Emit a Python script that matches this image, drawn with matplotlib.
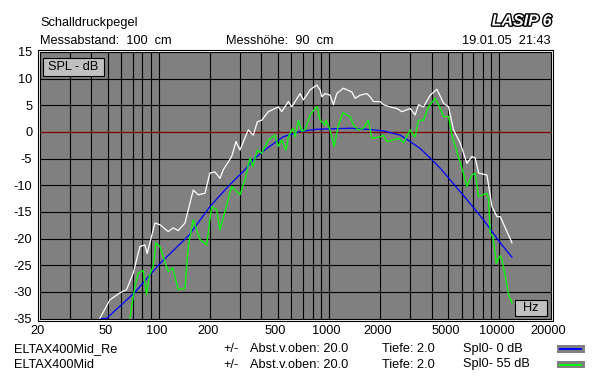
import matplotlib
matplotlib.use('Agg')
import matplotlib.pyplot as plt
from matplotlib.patches import Rectangle
from matplotlib.lines import Line2D
import matplotlib.patheffects as pe
import matplotlib.transforms as mtransforms
from matplotlib.ticker import NullLocator

plt.rcParams['font.family'] = ['Liberation Sans', 'DejaVu Sans']
plt.rcParams['axes.unicode_minus'] = False

# ---- data (frequency in Hz, level in dB) ----
white_f = [44.9, 51.5, 58.9, 64.5, 70.6, 77.3, 82.7, 85.3, 94.7, 101.3, 113.4, 121.3, 129.8,
           142.2, 159.1, 170.2, 186.4, 199.4, 213.4, 228.4, 238.8, 267.6, 283.6, 299.4, 335,
           358.6, 378.6, 401.9, 439.4, 503, 526.8, 576, 603, 675, 705.8, 773, 846, 885, 905.7,
           947, 1013, 1060, 1109, 1213, 1360, 1422, 1521, 1666, 1742, 1822, 1995, 2086, 2284,
           2502, 2677, 2994, 3205, 3351, 3586, 3926, 4300, 4702, 5031, 5383, 5894, 6457, 6908,
           7222, 7554, 8465, 9058, 9692, 10134, 11872]
white_db = [-35.0, -31.5, -30.2, -29.6, -26.5, -21.5, -21.2, -22.8, -17.1, -17.4, -18.7, -18.0, -18.5,
            -17.1, -10.9, -11.8, -11.5, -7.7, -7.5, -8.7, -7.1, -4.6, -1.8, -3.4, 0.4,
            -0.6, 1.9, 2.2, 3.8, 4.7, 3.8, 5.7, 4.7, 7.2, 6.0, 7.9, 8.8, 7.9, 6.6,
            7.2, 6.9, 5.1, 7.2, 8.2, 7.5, 6.3, 6.9, 7.2, 6.6, 5.7, 5.7, 5.1, 4.7,
            4.4, 3.8, 4.4, 3.2, 5.1, 4.7, 6.9, 8.0, 5.4, 4.7, 0.4, -2.1, -5.9, -4.6,
            -4.9, -7.7, -8.1, -14.0, -15.9, -15.9, -20.8]

green_f = [67.5, 72.2, 75.5, 80.8, 84.6, 87.7, 92.5, 96.0, 101.3, 106, 113.4, 120.4, 129.8,
           142.2, 148.7, 159.1, 174.2, 190.7, 204, 218.4, 228.4, 267.6, 299.4, 320, 342.8,
           355.7, 378.6, 401.9, 439.4, 481, 503, 526.8, 558, 576, 611.6, 630.8, 659.6, 690.7,
           722.3, 773, 827, 853, 885, 947, 960, 1013, 1070, 1134, 1204, 1329, 1389, 1487,
           1591, 1702, 1783, 1995, 2086, 2184, 2389, 2556, 2736, 2994, 3132, 3205, 3351,
           3586, 3837, 4202, 4497, 4702, 5031, 5268, 6032, 6457, 6908, 7222, 7554, 8465,
           8650, 8852, 9182, 9600, 10134, 10370, 10990, 11340, 11872]
green_db = [-35.0, -29.0, -26.5, -26.0, -30.5, -27.1, -25.2, -20.8, -21.5, -23.4, -26.2, -25.5, -29.6,
            -29.3, -21.5, -16.5, -20.2, -21.2, -14.0, -14.6, -18.4, -10.2, -11.8, -9.0, -4.9,
            -6.5, -3.4, -4.0, -1.5, -0.6, -2.7, -1.5, -3.4, -0.9, 0.7, -0.9, 2.2, 0.1,
            0.4, 3.2, 4.4, 4.7, 2.2, 1.3, 2.2, 0.4, -2.7, 1.3, 3.6, 2.9, 1.3, 0.4,
            0.7, 2.2, -1.2, -0.9, -0.6, -1.8, -1.5, -1.2, -2.0, 0.4, -0.6, -0.9, 2.2,
            2.2, 4.7, 6.3, 4.4, 2.9, 2.9, -0.6, -6.8, -10.2, -8.1, -7.7, -12.1, -11.5,
            -12.7, -19.0, -19.6, -24.6, -23.2, -24.0, -28.0, -30.5, -32.1]

blue_f = [44.9, 49.2, 72.2, 101.3, 150, 199.4, 259, 320, 366.9, 430, 538, 675, 846, 1060,
          1329, 1666, 2086, 2616, 2994, 3430, 3926, 4497, 5148, 6457, 8084, 10134, 11872]
blue_db = [-35.0, -35.0, -30.1, -24.7, -19.4, -14.0, -10.0, -7.1, -4.9, -3.1, -0.9, 0.1, 0.5, 0.6,
           0.7, 0.5, 0.2, -0.6, -1.8, -3.1, -4.9, -6.8, -9.0, -12.7, -16.5, -20.8, -23.5]

x_tick_vals = [20, 50, 100, 200, 500, 1000, 2000, 5000, 10000, 20000]
x_tick_labels = ['20', '50', '100', '200', '500', '1000', '2000', '5000', '10000', '20000']
y_tick_vals = [-35, -30, -25, -20, -15, -10, -5, 0, 5, 10, 15]
y_tick_labels = ['-35', '-30', '-25', '-20', '-15', '-10', '-5', '0', '5', '10', '15']
grid_freqs = [30, 40, 50, 60, 70, 80, 90, 100, 200, 300, 400, 500, 600, 700, 800, 900,
              1000, 2000, 3000, 4000, 5000, 6000, 7000, 8000, 9000, 10000]
grid_db = [-30, -25, -20, -15, -10, -5, 5, 10]

series_names = ['ELTAX400Mid_Re', 'ELTAX400Mid']
series_spl0 = ['Spl0- 0 dB', 'Spl0- 55 dB']
series_colors = ['#0000ff', '#00ff00']

FS = 9.2

# ---- figure ----
W, H = 598, 382
fig = plt.figure(figsize=(W / 100, H / 100), dpi=100)
fig.patch.set_facecolor('white')

def fx(px):
    return px / W

def fy(py):
    return 1 - py / H

L, R, T, B = 40, 550.5, 52, 318.5
ax = fig.add_axes([fx(L), fy(B), (R - L) / W, (B - T) / H])
ax.set_facecolor('#808080')
ax.set_xscale('log')
ax.set_xlim(20, 20000)
ax.set_ylim(-35, 15)

for f in grid_freqs:
    ax.axvline(f, color='black', lw=0.8, zorder=1)
for v in grid_db:
    ax.axhline(v, color='black', lw=0.8, zorder=1)
ax.axhline(0, color='#800000', lw=0.9, zorder=2)

ax.plot(blue_f, blue_db, color='#0000ff', lw=0.9, zorder=3)
ax.plot(green_f, green_db, color='#00ff00', lw=0.9, zorder=4)
ax.plot(white_f, white_db, color='white', lw=0.9, zorder=5)

ax.set_xticks(x_tick_vals)
ax.set_xticklabels(x_tick_labels)
ax.xaxis.set_minor_locator(NullLocator())
ax.set_yticks(y_tick_vals)
ax.set_yticklabels(y_tick_labels)
ax.tick_params(axis='both', length=0, labelsize=FS, colors='black')
ax.tick_params(axis='y', pad=5.5)
ax.tick_params(axis='x', pad=4.5)
offset = mtransforms.ScaledTranslation(-0.025, 0, fig.dpi_scale_trans)
for lbl in ax.get_xticklabels():
    lbl.set_transform(lbl.get_transform() + offset)
for s in ax.spines.values():
    s.set_color('black')
    s.set_linewidth(0.8)

# outer frame
fig.patches.append(Rectangle((fx(38.0), fy(320.5)), (552.5 - 38.0) / W, (320.5 - 50.3) / H,
                             transform=fig.transFigure, fill=False, edgecolor='black', lw=0.8))

# SPL - dB box
fig.patches.append(Rectangle((fx(42.7), fy(76)), (104 - 42.7) / W, (76 - 57.7) / H,
                             transform=fig.transFigure, facecolor='#c0c0c0', edgecolor='black', lw=0.8, zorder=2))
fig.text(fx(73.3), fy(67), 'SPL - dB', ha='center', va='center', fontsize=FS, zorder=3)
# Hz box
fig.patches.append(Rectangle((fx(515), fy(316)), (546.7 - 515) / W, (316 - 300) / H,
                             transform=fig.transFigure, facecolor='#c0c0c0', edgecolor='black', lw=0.8, zorder=2))
fig.text(fx(530.8), fy(308), 'Hz', ha='center', va='center', fontsize=FS, zorder=3)

# header
fig.text(fx(40.5), fy(23), 'Schalldruckpegel', ha='left', va='center', fontsize=FS)
fig.text(fx(40.5), fy(40.5), 'Messabstand:  100  cm', ha='left', va='center', fontsize=FS)
fig.text(fx(226), fy(40.5), 'Messhöhe:  90  cm', ha='left', va='center', fontsize=FS)
fig.text(fx(550), fy(40.5), '19.01.05  21:43', ha='right', va='center', fontsize=FS)
fig.text(fx(551.5), fy(21), 'LASIP 6', ha='right', va='center', fontsize=11.5, fontweight='bold',
         fontstyle='italic', color='white',
         path_effects=[pe.withStroke(linewidth=2, foreground='black')])

# legend rows
rows_y = [349, 364.5]
for i in range(2):
    y = rows_y[i]
    fig.text(fx(14), fy(y), series_names[i], ha='left', va='center', fontsize=FS)
    fig.text(fx(223), fy(y), '+/-', ha='left', va='center', fontsize=FS)
    fig.text(fx(250), fy(y), 'Abst.v.oben: 20.0', ha='left', va='center', fontsize=FS)
    fig.text(fx(382.5), fy(y), 'Tiefe: 2.0', ha='left', va='center', fontsize=FS)
    fig.text(fx(463), fy(y), series_spl0[i], ha='left', va='center', fontsize=FS)
    fig.patches.append(Rectangle((fx(557), fy(y + 3.8)), 28 / W, 7.5 / H, transform=fig.transFigure,
                                 facecolor='#808080', edgecolor='none'))
    fig.lines.append(Line2D([fx(560), fx(581)], [fy(y), fy(y)], transform=fig.transFigure,
                            color=series_colors[i], lw=1.4))

fig.savefig('out.png', dpi=100, facecolor='white')
